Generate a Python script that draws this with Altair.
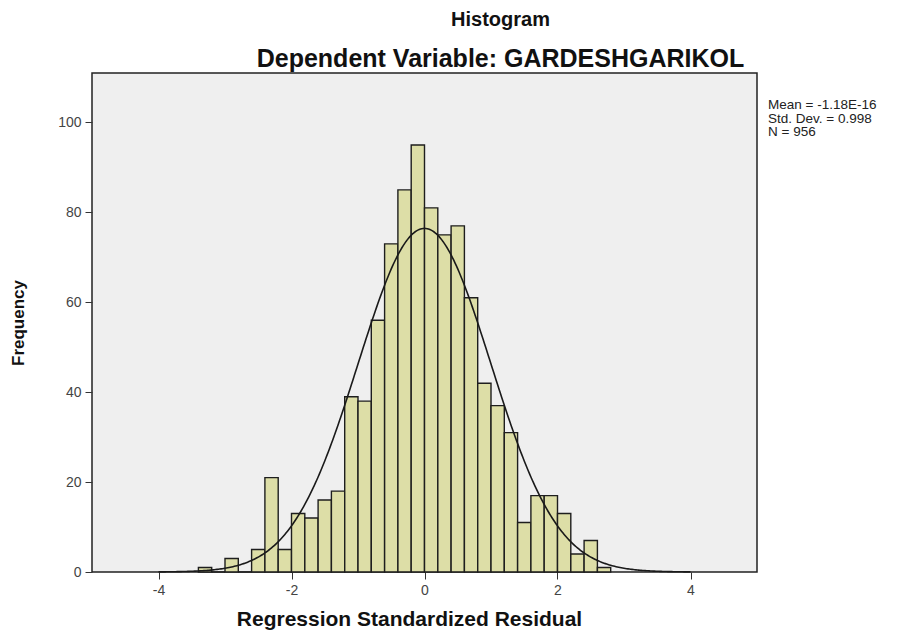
import altair as alt
import pandas as pd

# Histogram bins (lower edges) and counts
bin_starts = [-3.4, -3.2, -3.0, -2.8, -2.6, -2.4, -2.2, -2.0, -1.8, -1.6, -1.4, -1.2,
              -1.0, -0.8, -0.6, -0.4, -0.2, 0.0, 0.2, 0.4, 0.6, 0.8, 1.0, 1.2,
              1.4, 1.6, 1.8, 2.0, 2.2, 2.4, 2.6]
counts = [1, 0, 3, 0, 5, 21, 5, 13, 12, 16, 18, 39,
          38, 56, 73, 85, 95, 81, 75, 77, 61, 42, 37, 31,
          11, 17, 17, 13, 4, 7, 1]
BIN_WIDTH = 0.2

# Fitted normal curve parameters (from the chart's legend)
MEAN = -1.18e-16
SD = 0.998
N = 956
stats_lines = ["Mean = -1.18E-16", "Std. Dev. = 0.998", "N = 956"]

x_ticks = [-4, -2, 0, 2, 4]
y_ticks = [0, 20, 40, 60, 80, 100]

df = pd.DataFrame({"start": bin_starts, "count": counts})

FONT = "Liberation Sans"

xscale = alt.Scale(domain=[-5, 5], nice=False, zero=False)
yscale = alt.Scale(domain=[0, 111], nice=False)

bars = alt.Chart(df).transform_calculate(
    end=f"datum.start + {BIN_WIDTH}"
).mark_rect(
    fill="#DADC9E", fillOpacity=0.9, stroke="#1E1E1E", strokeWidth=1.4
).encode(
    x=alt.X("start:Q", scale=xscale,
            axis=alt.Axis(values=x_ticks, title="Regression Standardized Residual",
                          labelExpr="replace(format(datum.value, 'd'), '−', '-')",
                          grid=False, domain=False, tickSize=7, tickColor="#333",
                          labelColor="#444", labelFontSize=14, labelFont=FONT,
                          labelPadding=4,
                          titleFont=FONT, titleFontSize=21, titleFontWeight="bold",
                          titleColor="#111", titlePadding=11, titleX=317,
                          titleAlign="center")),
    x2="end:Q",
    y=alt.Y("count:Q", scale=yscale,
            axis=alt.Axis(values=y_ticks, title="Frequency", grid=False, domain=False,
                          tickSize=7, tickColor="#333", labelColor="#444",
                          labelFontSize=14, labelFont=FONT, labelPadding=4,
                          titleFont=FONT, titleFontSize=17, titleFontWeight="bold",
                          titleColor="#111", titlePadding=30)),
    y2=alt.datum(0),
)

curve = alt.Chart(alt.sequence(-4.0, 4.001, 0.02, as_="z")).transform_calculate(
    dens=f"{N} * {BIN_WIDTH} / ({SD} * sqrt(2 * PI)) * exp(-0.5 * pow((datum.z - ({MEAN})) / {SD}, 2))"
).mark_line(color="#1A1A1A", strokeWidth=1.6).encode(
    x=alt.X("z:Q", scale=xscale),
    y=alt.Y("dens:Q", scale=yscale),
)

legend_text = alt.Chart(pd.DataFrame({"k": [0]})).mark_text(
    align="left", baseline="top", font=FONT, fontSize=13.5, lineHeight=13.5, color="#222"
).encode(
    x=alt.value(676),
    y=alt.value(25),
    text=alt.value(stats_lines),
)

chart = alt.layer(bars, curve, legend_text).properties(
    width=665,
    height=499,
    background="white",
    autosize=alt.AutoSizeParams(type="none"),
    padding={"left": 84, "top": 65, "right": 147, "bottom": 60},
    title=alt.TitleParams(
        text="Histogram",
        subtitle="Dependent Variable: GARDESHGARIKOL",
        font=FONT, fontSize=20, fontWeight="bold", color="#111",
        subtitleFont=FONT, subtitleFontSize=25, subtitleFontWeight="bold",
        subtitleColor="#111", subtitlePadding=17,
        anchor="middle", frame="group", dx=76, offset=1,
    ),
).configure_view(
    fill="#EFEFEF", stroke="#222", strokeWidth=1.5
)

chart.save("out.html", embed_options={"renderer": "svg", "actions": False})
